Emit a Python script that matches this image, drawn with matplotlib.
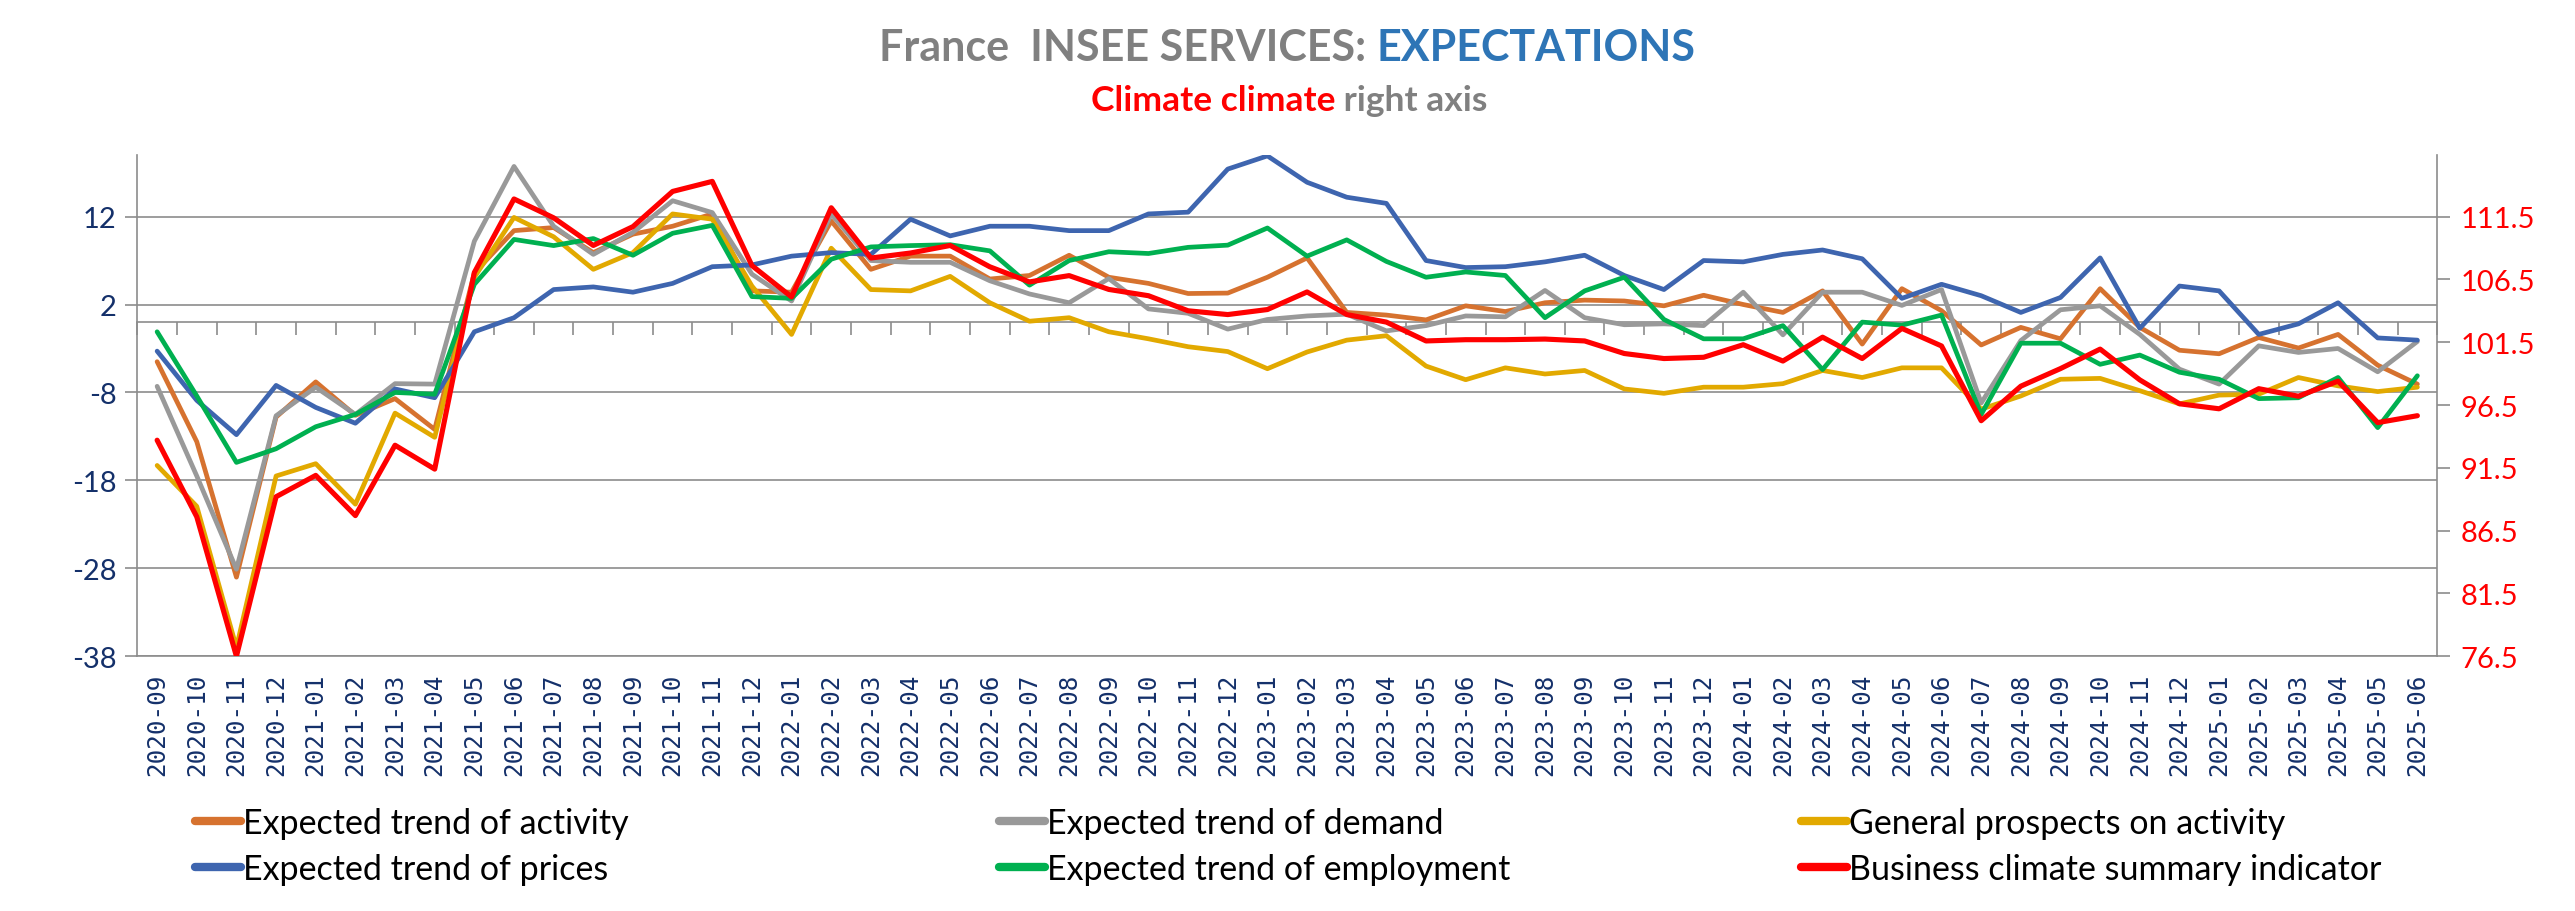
import numpy as np
import pandas as pd
import matplotlib
matplotlib.use("Agg")
import matplotlib.pyplot as plt
from matplotlib.ticker import FormatStrFormatter

# ---------------- data ----------------
months = list(pd.period_range("2020-09", "2025-06", freq="M").strftime("%Y-%m"))

activity = [-4.5, -13.6, -29.0, -10.8, -6.8, -10.6, -8.7, -12.2, 5.6, 10.4, 10.75, 7.9,
            10.0, 10.9, 12.3, 3.55, 3.4, 11.5, 6.0, 7.5, 7.5, 4.9, 5.3, 7.6,
            5.1, 4.4, 3.25, 3.3, 5.1, 7.3, 1.1, 0.8, 0.25, 1.85, 1.2,
            2.2, 2.5, 2.4, 1.85, 3.05, 2.0, 1.1, 3.55, -2.5, 3.8, 1.3,
            -2.6, -0.6, -1.9, 3.8, -0.6, -3.2, -3.6, -1.75, -2.95, -1.4, -4.9, -7.05]

demand = [-7.3, -17.5, -28.1, -10.65, -7.4, -10.5, -7.0, -7.05, 9.2, 17.7, 10.9, 7.7,
          10.2, 13.8, 12.45, 5.45, 2.4, 12.3, 7.0, 6.8, 6.8, 4.7, 3.2, 2.2,
          4.95, 1.5, 1.0, -0.8, 0.3, 0.7, 0.9, -1.0, -0.4, 0.7, 0.6,
          3.6, 0.5, -0.3, -0.2, -0.4, 3.4, -1.45, 3.4, 3.4, 1.9, 3.7,
          -9.2, -2.1, 1.4, 1.85, -1.4, -5.35, -7.05, -2.7, -3.45, -3.0, -5.65, -2.2]

prospects = [-16.3, -20.95, -37.0, -17.5, -16.1, -20.7, -10.35, -13.1, 5.1, 11.9, 9.7, 6.0,
             7.9, 12.3, 11.7, 4.1, -1.4, 8.4, 3.7, 3.55, 5.2, 2.2, 0.1, 0.5,
             -1.1, -1.9, -2.8, -3.35, -5.3, -3.4, -2.05, -1.55, -5.0, -6.55, -5.2,
             -5.9, -5.5, -7.6, -8.1, -7.4, -7.4, -7.0, -5.5, -6.3, -5.2, -5.2,
             -9.9, -8.4, -6.5, -6.4, -7.8, -9.3, -8.3, -8.2, -6.3, -7.25, -7.9, -7.4]

prices = [-3.3, -8.9, -12.8, -7.2, -9.7, -11.5, -7.6, -8.6, -1.1, 0.5, 3.7, 4.0,
          3.4, 4.4, 6.3, 6.5, 7.5, 7.9, 7.7, 11.7, 9.8, 10.9, 10.9, 10.4,
          10.4, 12.3, 12.5, 17.4, 18.9, 15.9, 14.2, 13.5, 7.0, 6.2, 6.3,
          6.85, 7.6, 5.3, 3.7, 7.0, 6.85, 7.7, 8.2, 7.2, 2.7, 4.3,
          3.0, 1.1, 2.8, 7.3, -0.7, 4.1, 3.55, -1.4, -0.2, 2.2, -1.8, -2.05]

employment = [-1.1, -8.4, -15.95, -14.4, -11.9, -10.5, -8.0, -8.2, 4.3, 9.4, 8.7, 9.5,
              7.6, 10.1, 11.0, 2.9, 2.7, 7.15, 8.55, 8.7, 8.8, 8.1, 4.2, 7.0,
              8.0, 7.8, 8.5, 8.75, 10.7, 7.5, 9.35, 6.9, 5.1, 5.7, 5.3,
              0.5, 3.55, 5.1, 0.3, -1.9, -1.9, -0.4, -5.4, 0.0, -0.35, 0.8,
              -10.5, -2.4, -2.4, -4.8, -3.75, -5.7, -6.5, -8.7, -8.6, -6.3, -12.0, -6.1]

climate = [93.7, 87.6, 76.5, 89.2, 90.9, 87.7, 93.3, 91.4, 107.05, 112.9, 111.4, 109.2,
           110.7, 113.5, 114.3, 107.6, 105.1, 112.2, 108.2, 108.6, 109.2, 107.5, 106.3, 106.8,
           105.7, 105.2, 104.0, 103.7, 104.1, 105.5, 103.7, 103.1, 101.6, 101.7, 101.7,
           101.75, 101.6, 100.6, 100.2, 100.3, 101.3, 100.0, 101.9, 100.2, 102.6, 101.2,
           95.25, 98.0, 99.4, 100.95, 98.5, 96.6, 96.2, 97.8, 97.2, 98.4, 95.1, 95.65]

left_ticks = [-38, -28, -18, -8, 2, 12]
right_ticks = [76.5, 81.5, 86.5, 91.5, 96.5, 101.5, 106.5, 111.5]

labels = {
    "activity": "Expected trend of activity",
    "demand": "Expected trend of demand",
    "prospects": "General prospects on activity",
    "prices": "Expected trend of prices",
    "employment": "Expected trend of employment",
    "climate": "Business climate summary indicator",
}

# ---------------- style ----------------
plt.rcParams["font.family"] = ["Lato", "DejaVu Sans"]

C_ACT = "#D6722F"
C_DEM = "#999999"
C_PRO = "#E2A900"
C_PRI = "#3E65AF"
C_EMP = "#00B050"
C_CLI = "#FF0000"
GRID = "#8C8C8C"
NAVY = "#14306A"

W, H = 2575, 912
fig = plt.figure(figsize=(W / 100, H / 100), dpi=100)
ax = fig.add_axes([137.3 / W, 1 - 657.3 / H, (2437.2 - 137.3) / W, (657.3 - 156.0) / H])
ax2 = ax.twinx()

x = np.arange(len(months))
lw = 3.4
kw = dict(solid_joinstyle="round", solid_capstyle="round")
l_act, = ax.plot(x, activity, color=C_ACT, lw=lw, label=labels["activity"], zorder=3, **kw)
l_dem, = ax.plot(x, demand, color=C_DEM, lw=lw, label=labels["demand"], zorder=3, **kw)
l_pro, = ax.plot(x, prospects, color=C_PRO, lw=lw, label=labels["prospects"], zorder=3, **kw)
l_pri, = ax.plot(x, prices, color=C_PRI, lw=lw, label=labels["prices"], zorder=3, **kw)
l_emp, = ax.plot(x, employment, color=C_EMP, lw=lw, label=labels["employment"], zorder=3, **kw)
l_cli, = ax2.plot(x, climate, color=C_CLI, lw=3.7, label=labels["climate"], **kw)

ax.set_xlim(-0.5, len(months) - 0.5)
ax.set_ylim(-38, 19)
ax.set_yticks(left_ticks)
ax.yaxis.set_major_formatter(FormatStrFormatter("%d"))
ax.grid(axis="y", color=GRID, lw=1.2)
ax.set_axisbelow(True)

ax2.set_ylim(76.5, 116.4)
ax2.set_yticks(right_ticks)
ax2.yaxis.set_major_formatter(FormatStrFormatter("%.1f"))

for a in (ax, ax2):
    for s in a.spines.values():
        s.set_visible(False)
for a, side in ((ax, "left"), (ax, "bottom"), (ax2, "right")):
    a.spines[side].set_visible(True)
    a.spines[side].set_color(GRID)
    a.spines[side].set_linewidth(1.2)

ax.set_xticks(x)
ax.set_xticklabels(months, rotation=90, family="DejaVu Sans Mono", fontsize=17.5, color=NAVY)
ax.tick_params(axis="x", length=0, pad=12)
ax.tick_params(axis="y", direction="out", length=9, color=GRID, width=1.2,
               labelsize=21, labelcolor=NAVY, pad=6)
ax2.tick_params(axis="y", direction="out", length=9, color=GRID, width=1.2,
                labelsize=21, labelcolor=C_CLI, pad=8)

# category axis crossing at 0 (with boundary tick marks)
zero_pos = (0 - (-38)) / (19 - (-38))
sec = ax.secondary_xaxis(zero_pos)
sec.set_alignment("bottom")
sec.set_xticks(np.arange(-0.5, len(months), 1))
sec.tick_params(axis="x", direction="out", length=9, color=GRID, width=1.2,
                labelbottom=False, labeltop=False)
sec.spines["bottom"].set_color(GRID)
sec.spines["bottom"].set_linewidth(1.2)
sec.set_zorder(0.5)

# ---------------- legend ----------------
leg_kw = dict(loc="upper left", frameon=False, fontsize=24.5, handlelength=1.35,
              handletextpad=0.05, borderpad=0, borderaxespad=0, labelspacing=0.4)
cols = [([l_act, l_pri], 195), ([l_dem, l_emp], 999), ([l_pro, l_cli], 1801)]
for hs, xp in cols:
    lg = fig.legend(handles=hs, bbox_to_anchor=(xp / W, 1 - 808 / H), **leg_kw)
    for ln in lg.get_lines():
        ln.set_linewidth(6)

# ---------------- title ----------------
renderer = fig.canvas.get_renderer()


def rich(pieces, xc_px, y_px, size):
    ts = [fig.text(0, 1 - y_px / H, s, color=c, fontsize=size, fontweight="bold",
                   va="center", ha="left") for s, c in pieces]
    ws = [t.get_window_extent(renderer).width for t in ts]
    x0 = xc_px - sum(ws) / 2
    for t, w in zip(ts, ws):
        t.set_x(x0 / W)
        x0 += w


rich([("France  INSEE SERVICES: ", "#808080"), ("EXPECTATIONS", "#2E75B6")], 1287, 48, 31)
rich([("Climate climate", "#FF0000"), (" right axis", "#808080")], 1289, 101, 25.5)

fig.savefig("out.png", dpi=100)
